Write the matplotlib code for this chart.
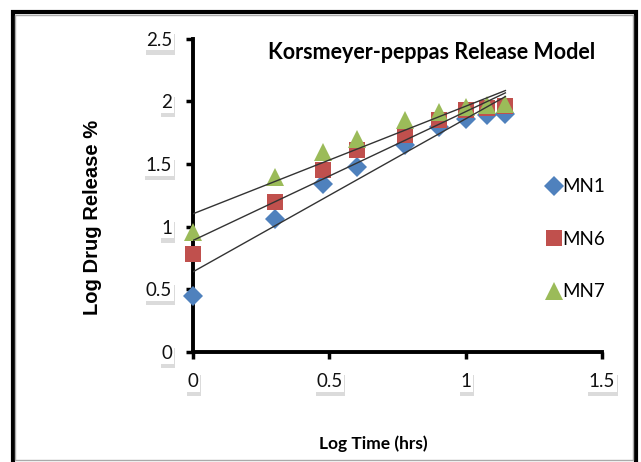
import numpy as np
import matplotlib
matplotlib.use("Agg")
import matplotlib.pyplot as plt
import matplotlib.patheffects as pe
from matplotlib.patches import Rectangle

# log10 of sampling time (1, 2, 3, 4, 6, 8, 10, 12, 14 hrs)
log_time = [0.0, 0.301, 0.477, 0.602, 0.778, 0.903, 1.0, 1.079, 1.146]

# log of cumulative % drug released
mn1 = [0.45, 1.065, 1.345, 1.48, 1.65, 1.795, 1.86, 1.89, 1.90]
mn6 = [0.78, 1.20, 1.455, 1.61, 1.73, 1.855, 1.93, 1.95, 1.965]
mn7 = [0.96, 1.40, 1.595, 1.70, 1.85, 1.915, 1.955, 1.97, 1.98]

series_names = ["MN1", "MN6", "MN7"]
x_ticks = [0, 0.5, 1, 1.5]
y_ticks = [0, 0.5, 1, 1.5, 2, 2.5]

narrow = ["Lato", "DejaVu Sans"]

fig = plt.figure(figsize=(6.41, 4.62), dpi=100)
ax = fig.add_axes([0.301, 0.238, 0.638, 0.678])

styles = [("D", "#4F81BD", 10), ("s", "#C0504D", 11), ("^", "#9BBB59", 12.5)]
x = np.array(log_time)
for name, y, (mk, col, ms) in zip(series_names, [mn1, mn6, mn7], styles):
    ax.plot(x, y, linestyle="none", marker=mk, color=col, markersize=ms,
            markeredgewidth=0, label=name, zorder=3, clip_on=False)

# linear trend lines (Korsmeyer-Peppas: log Q vs log t)
for y in [mn1, mn6, mn7]:
    k, b = np.polyfit(x, y, 1)
    xx = np.array([0, x.max()])
    ax.plot(xx, k * xx + b, color="#333333", linewidth=1.0, zorder=4)

ax.set_xlim(0, 1.5)
ax.set_ylim(0, 2.5)
ax.set_xticks(x_ticks)
ax.set_yticks(y_ticks)
ax.set_xticklabels(["0", "0.5", "1", "1.5"])
ax.set_yticklabels(["0", "0.5", "1", "1.5", "2", "2.5"])
for s in ["top", "right"]:
    ax.spines[s].set_visible(False)
for s in ["left", "bottom"]:
    ax.spines[s].set_linewidth(2.8)
ax.tick_params(direction="out", length=5, width=2.5, pad=10)
ax.set_facecolor("none")

# tick labels sit in little white boxes with a soft drop shadow
for lab in ax.get_xticklabels() + ax.get_yticklabels():
    lab.set_fontfamily(narrow)
    lab.set_fontsize(13.5)
    lab.set_color("#111111")
    lab.set_bbox(dict(facecolor="white", edgecolor="none", pad=1.2))
    lab.get_bbox_patch().set_path_effects(
        [pe.withSimplePatchShadow(offset=(1, -3), shadow_rgbFace="0.6", alpha=0.35)])

ax.set_xlabel("Log Time (hrs)", family=narrow, fontsize=12.5, fontweight="bold")
ax.xaxis.set_label_coords(0.44, -0.265)
ax.set_ylabel("Log Drug Release %", family="Liberation Sans", fontsize=14.5,
              fontweight="bold")
ax.yaxis.set_label_coords(-0.222, 0.43)

fig.text(0.674, 0.887, "Korsmeyer-peppas Release Model", family=narrow,
         fontsize=15.5, fontweight="bold", ha="center", va="center")

leg = ax.legend(loc="center left", bbox_to_anchor=(0.82, 0.36), frameon=False,
                labelspacing=1.9, handletextpad=0.0, handlelength=0.9,
                prop={"family": narrow, "size": 13.5})

# outer frame around the whole chart
fig.patches.append(Rectangle((0.020, -0.02), 0.972, 0.995, transform=fig.transFigure,
                             fill=False, edgecolor="black", linewidth=3.0))
fig.patches.append(Rectangle((0.024, 0.005), 0.964, 0.963, transform=fig.transFigure,
                             fill=False, edgecolor="#aaaaaa", linewidth=1.0))

fig.savefig("out.png", dpi=100)
